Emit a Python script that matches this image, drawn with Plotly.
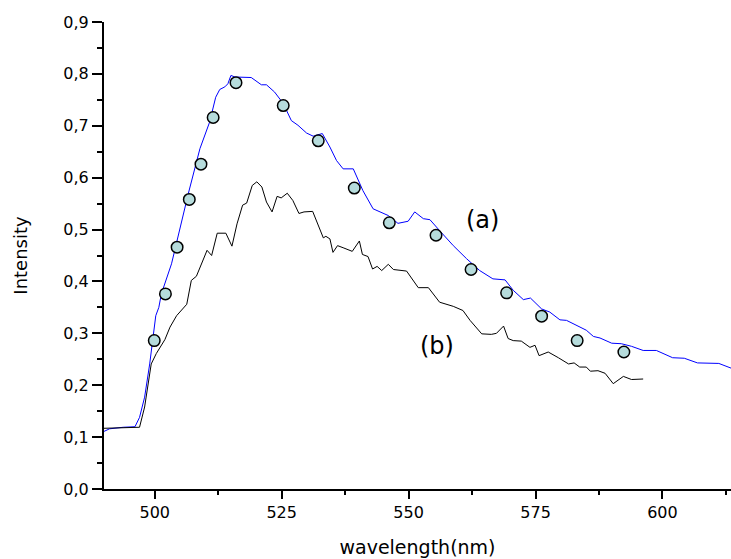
import plotly.graph_objects as go

# Curve (a) - blue line
wl_a = [490.0, 491.1, 493.8, 496.1, 497.0, 498.0, 499.0, 499.7, 500.2, 500.8, 501.3, 503.3, 506.6,
        508.9, 510.8, 512.0, 512.8, 513.8, 514.4, 515.0, 515.8, 519.0, 521.0, 522.0, 523.6,
        525.3, 526.9, 528.2, 529.9, 531.2, 533.0, 534.5, 535.8, 537.1, 539.1, 541.0, 543.0,
        546.0, 547.9, 549.9, 551.2, 552.9, 554.2, 556.1, 558.8, 561.4, 564.0, 566.6, 568.0,
        569.0, 570.6, 572.6, 574.0, 576.2, 577.8, 579.8, 581.1, 585.0, 586.4, 587.7, 590.0,
        591.9, 593.9, 596.2, 598.8, 602.0, 604.3, 606.9, 611.1, 613.5]
int_a = [0.111, 0.116, 0.119, 0.120, 0.138, 0.177, 0.241, 0.299, 0.334, 0.350, 0.376, 0.434, 0.569,
         0.656, 0.707, 0.755, 0.770, 0.775, 0.781, 0.797, 0.794, 0.793, 0.779, 0.779, 0.765,
         0.743, 0.710, 0.701, 0.686, 0.680, 0.685, 0.659, 0.633, 0.617, 0.617, 0.575, 0.540,
         0.527, 0.512, 0.516, 0.534, 0.521, 0.519, 0.498, 0.469, 0.444, 0.421, 0.405, 0.403,
         0.403, 0.383, 0.365, 0.368, 0.347, 0.341, 0.326, 0.325, 0.306, 0.294, 0.291, 0.281,
         0.280, 0.275, 0.267, 0.267, 0.253, 0.252, 0.243, 0.242, 0.233]

# Curve (a) - marked points
wl_pts = [499.9, 502.1, 504.4, 506.8, 509.1, 511.5, 516.0, 525.3, 532.2, 539.3, 546.2,
          555.4, 562.3, 569.3, 576.2, 583.2, 592.4]
int_pts = [0.286, 0.376, 0.466, 0.558, 0.626, 0.716, 0.783, 0.739, 0.671, 0.580, 0.513,
           0.489, 0.423, 0.378, 0.333, 0.286, 0.264]

# Curve (b) - black line
wl_b = [490.0, 497.0, 498.0, 498.7, 499.3, 500.3, 502.0, 503.0, 504.3, 506.3, 507.2, 508.2,
        510.3, 511.2, 512.3, 514.0, 515.2, 516.2, 517.3, 518.1, 519.2, 520.1, 521.1, 522.0,
        523.1, 524.1, 524.9, 526.1, 527.2, 528.4, 529.4, 531.1, 532.2, 533.2, 533.7, 534.5,
        535.1, 536.0, 537.1, 538.9, 540.3, 540.9, 542.0, 542.9, 543.8, 544.7, 546.0, 547.0,
        549.6, 551.9, 553.9, 556.1, 558.8, 560.7, 562.1, 564.4, 566.3, 567.3, 568.7, 569.6,
        570.6, 572.2, 573.9, 574.9, 575.7, 577.5, 579.5, 581.5, 582.6, 583.7, 585.0, 585.8,
        587.3, 588.7, 590.3, 592.3, 593.9, 596.2]
int_b = [0.117, 0.119, 0.158, 0.203, 0.241, 0.261, 0.288, 0.312, 0.334, 0.356, 0.402, 0.410,
         0.460, 0.450, 0.493, 0.493, 0.468, 0.511, 0.547, 0.551, 0.585, 0.592, 0.582, 0.553,
         0.534, 0.564, 0.561, 0.570, 0.556, 0.531, 0.534, 0.535, 0.508, 0.484, 0.487, 0.482,
         0.456, 0.469, 0.465, 0.458, 0.478, 0.452, 0.448, 0.424, 0.429, 0.421, 0.433, 0.423,
         0.420, 0.388, 0.388, 0.360, 0.352, 0.344, 0.325, 0.299, 0.298, 0.300, 0.314, 0.290,
         0.286, 0.285, 0.273, 0.277, 0.257, 0.264, 0.253, 0.241, 0.243, 0.235, 0.235, 0.227,
         0.228, 0.223, 0.203, 0.217, 0.211, 0.212]

x_ticks = [500, 525, 550, 575, 600]
x_minor = [512.5, 537.5, 562.5, 587.5, 612.5]

FONT = "DejaVu Sans, Arial, sans-serif"

fig = go.Figure()
fig.add_trace(go.Scatter(x=wl_a, y=int_a, mode="lines",
                         line=dict(color="#0000ff", width=1), showlegend=False))
fig.add_trace(go.Scatter(x=wl_b, y=int_b, mode="lines",
                         line=dict(color="#000000", width=1), showlegend=False))
fig.add_trace(go.Scatter(x=wl_pts, y=int_pts, mode="markers",
                         marker=dict(size=11.5, color="#b6dcdc",
                                     line=dict(color="#000000", width=1.5)),
                         showlegend=False))

fig.add_annotation(x=564.6, y=0.518, text="(a)", showarrow=False,
                   font=dict(family=FONT, size=24, color="#000"))
fig.add_annotation(x=555.5, y=0.276, text="(b)", showarrow=False,
                   font=dict(family=FONT, size=24, color="#000"))

fig.update_layout(
    width=731, height=559,
    margin=dict(l=104, r=0, t=22, b=70, autoexpand=False),
    paper_bgcolor="white", plot_bgcolor="white",
    separators=",.",
    font=dict(family=FONT, size=16, color="#000"),
    xaxis=dict(
        range=[490, 613.5], tickmode="array", tickvals=x_ticks,
        showgrid=False, zeroline=False, showline=True, linecolor="#000", linewidth=2,
        ticks="outside", ticklen=8, tickwidth=2, tickcolor="#000",
        minor=dict(ticks="outside", ticklen=4, tickwidth=2, tickcolor="#000",
                   tickvals=x_minor, showgrid=False),
        tickfont=dict(family=FONT, size=16),
        title=dict(text="wavelength(nm)", font=dict(family=FONT, size=19), standoff=19),
        automargin=False,
    ),
    yaxis=dict(
        range=[0, 0.9], tickmode="linear", tick0=0, dtick=0.1, tickformat=".1f",
        showgrid=False, zeroline=False, showline=True, linecolor="#000", linewidth=2,
        ticks="outside", ticklen=10, tickwidth=2, tickcolor="#000",
        minor=dict(ticks="outside", ticklen=5, tickwidth=2, tickcolor="#000",
                   dtick=0.05, tick0=0, showgrid=False),
        tickfont=dict(family=FONT, size=16),
        title=dict(text="Intensity", font=dict(family=FONT, size=18), standoff=31),
        automargin=False,
    ),
)

fig.write_html("out.html", config={"displayModeBar": False},
               post_script="document.body.style.margin='0';document.body.style.overflow='hidden';")
